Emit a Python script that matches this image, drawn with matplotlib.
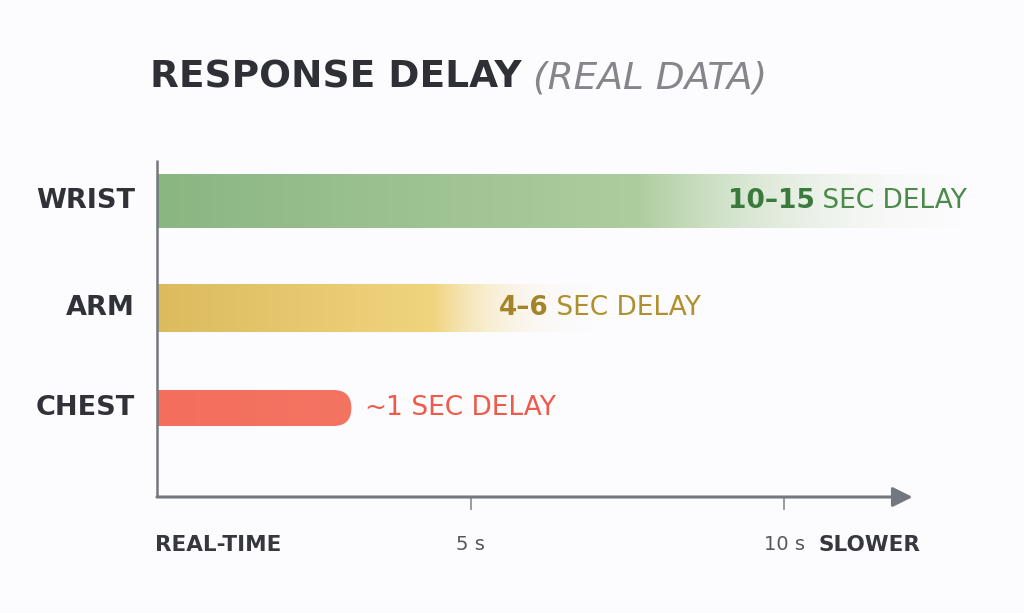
import numpy as np
import matplotlib
matplotlib.use('Agg')
import matplotlib.pyplot as plt
from matplotlib.patches import FancyBboxPatch
from matplotlib.colors import to_rgb

plt.rcParams['font.family'] = ['DejaVu Sans']

# data (seconds on the drawn axis)
parts = ['WRIST', 'ARM', 'CHEST']
bar_solid = [7.7, 4.4, 3.1]     # where the bar starts to fade
bar_end = [13.3, 7.5, 3.1]      # where the bar is gone
delay_num = ['10\u201315', '4\u20136', '~1']
delay_txt = ' SEC DELAY'
tick_vals = [5, 10]
tick_labels = ['5 s', '10 s']

# styling / layout
ypos = [2.07, 1.0, 0.0]
bar_h = [0.54, 0.48, 0.36]
col_left = ['#8ab682', '#dcbb5e', '#f36e5d']
col_right = ['#aecd9f', '#f0d47e', '#f47462']
fade_pow = [2.2, 3.2, 1.0]
num_col = ['#3a7a3d', '#a3842a', '#ef5a4b']
txt_col = ['#4a8a4a', '#b0902e', '#ef5a4b']
num_weight = ['bold', 'bold', 'normal']
label_x = [9.1, 5.45, 3.3]
rounded = [False, False, True]

bg = '#fcfbfd'
axis_col = '#74777d'

fig = plt.figure(figsize=(10.24, 6.13), dpi=100, facecolor=bg)
W, H = 1024, 613
ax_l, ax_r, ax_t, ax_b = 157, 1010, 150, 497
ax = fig.add_axes([ax_l / W, 1 - ax_b / H, (ax_r - ax_l) / W, (ax_b - ax_t) / H])
ax.set_facecolor('none')
x_ppu = 62.7
xmax = (ax_r - ax_l) / x_ppu
ymin, ymax = -0.89, 2.58
y_ppu = (ax_b - ax_t) / (ymax - ymin)
ax.set_xlim(0, xmax)
ax.set_ylim(ymin, ymax)
for s in ax.spines.values():
    s.set_visible(False)
ax.set_yticks([])

# bars with fading tails
N = 600
for i in range(len(parts)):
    xs = np.linspace(0, bar_end[i], N)
    c0, c1 = np.array(to_rgb(col_left[i])), np.array(to_rgb(col_right[i]))
    t = np.clip(xs / max(bar_solid[i], 1e-6), 0, 1)[:, None]
    rgb = c0 * (1 - t) + c1 * t
    if bar_end[i] > bar_solid[i]:
        f = np.clip((xs - bar_solid[i]) / (bar_end[i] - bar_solid[i]), 0, 1)
        alpha = (1 - f) ** fade_pow[i]
    else:
        alpha = np.ones(N)
    img = np.dstack([rgb[None, :, 0], rgb[None, :, 1], rgb[None, :, 2], alpha[None, :]])
    y0 = ypos[i] - bar_h[i] / 2
    im = ax.imshow(img, extent=(0, bar_end[i], y0, y0 + bar_h[i]), aspect='auto',
                   interpolation='bilinear', zorder=2, clip_on=False)
    if rounded[i]:
        ma = x_ppu / y_ppu
        r = bar_h[i] * y_ppu / 2 / x_ppu
        clip = FancyBboxPatch((-1, y0), bar_end[i] + 1, bar_h[i],
                              boxstyle=f'round,pad=0,rounding_size={r}',
                              mutation_aspect=ma, facecolor='none', edgecolor='none')
        ax.add_patch(clip)
        im.set_clip_on(True)
        im.set_clip_path(clip)

    # value label, number part then text part
    t1 = ax.text(label_x[i], ypos[i], delay_num[i], fontsize=19, color=num_col[i],
                 fontweight=num_weight[i], va='center', ha='left', zorder=3)
    ax.annotate(delay_txt, xy=(1, 0), xycoords=t1, va='bottom', ha='left',
                fontsize=19, color=txt_col[i], zorder=3)

    # category label
    ax.text(-0.35, ypos[i], parts[i], fontsize=19.5, fontweight='bold', color='#303238',
            ha='right', va='center')

# axes lines
ax.plot([0, 0], [ymin, 2.48], color=axis_col, lw=1.8, clip_on=False, zorder=4,
        solid_capstyle='butt')
ax.annotate('', xy=(12.05, ymin), xytext=(0, ymin), annotation_clip=False,
            arrowprops=dict(arrowstyle='-|>,head_length=0.6,head_width=0.3',
                            mutation_scale=20, lw=2.2, color=axis_col,
                            shrinkA=0, shrinkB=0))

ax.set_xticks(tick_vals)
ax.set_xticklabels(tick_labels)
ax.tick_params(axis='x', length=9, width=1.2, color='#8a8c90', pad=18,
               labelsize=14, labelcolor='#55575c')

fig.text(155 / W, 1 - 545 / H, 'REAL-TIME', fontsize=15.5, fontweight='bold',
         color='#36383d', va='center', ha='left')
fig.text(818 / W, 1 - 545 / H, 'SLOWER', fontsize=15.5, fontweight='bold',
         color='#36383d', va='center', ha='left')

# title
t = fig.text(150 / W, 1 - 88 / H, 'RESPONSE DELAY', fontsize=27, fontweight='bold',
             color='#2e3035', va='baseline', ha='left')
ax.annotate('(REAL DATA)', xy=(1, 0), xycoords=t, xytext=(8, 0),
            textcoords='offset points', va='bottom', ha='left', fontsize=27,
            fontstyle='italic', color='#85868b')

fig.savefig('out.png', dpi=100, facecolor=bg)
